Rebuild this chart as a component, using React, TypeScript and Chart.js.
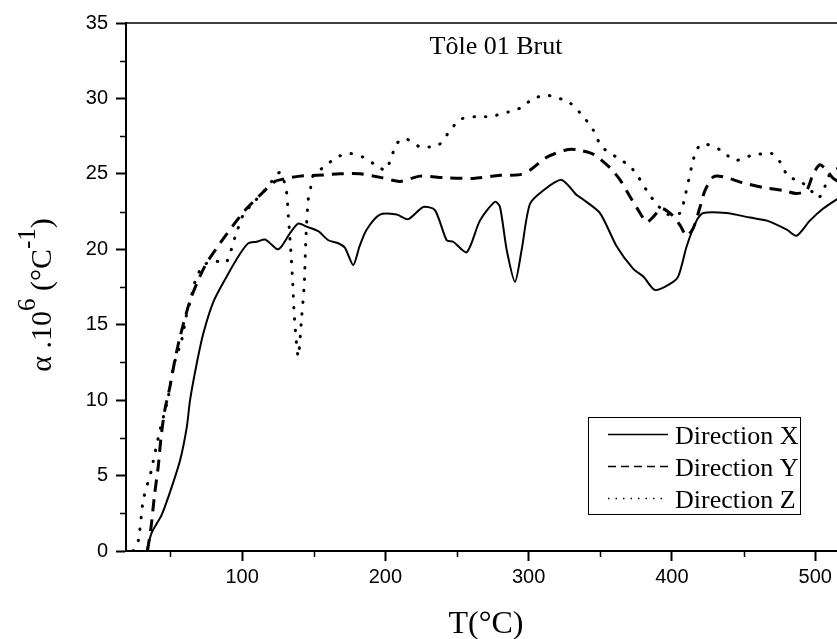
import React, { useEffect, useRef } from "react";
import { Chart, registerables } from "chart.js";

Chart.register(...registerables);

// ---- Data (temperature °C, alpha x 10^6 /°C) ----
const dirXTemp = [33.4, 36.9, 43.9, 49.7, 56.7, 61.4, 63.7, 68.3, 72.9, 79.9, 89.3, 98.6, 104.4, 110.2, 116.0, 120.7, 124.6, 127.6, 133.4, 139.2, 145.1, 153.2, 160.2, 167.2, 171.8, 177.6, 182, 186.9, 196.2, 207.9, 216.0, 226.5, 234.6, 242.8, 247.4, 256.8, 266.0, 276.5, 280, 284.7, 290.5, 295.1, 300.9, 310.2, 323.0, 333.5, 338.1, 349.8, 361.4, 373.0, 380, 388.2, 398.6, 404.4, 410.3, 417.2, 421.9, 438, 454.6, 466.3, 480.2, 487.0, 496.3, 505.6, 514.9, 520];
const dirXAlpha = [0, 1.2, 2.4, 3.9, 6.0, 8.2, 10.0, 12.4, 14.4, 16.5, 18.2, 19.7, 20.4, 20.5, 20.65, 20.3, 20.0, 20.2, 21.05, 21.7, 21.5, 21.2, 20.6, 20.4, 20.1, 18.95, 20.2, 21.3, 22.3, 22.3, 22.0, 22.8, 22.6, 20.6, 20.5, 19.8, 21.9, 23.15, 22.8, 19.95, 17.85, 19.95, 23.0, 23.9, 24.6, 23.6, 23.3, 22.4, 20.2, 18.7, 18.2, 17.3, 17.7, 18.2, 20.2, 21.9, 22.4, 22.4, 22.1, 21.9, 21.3, 20.9, 21.9, 22.7, 23.3, 23.6];

const dirYTemp = [34, 36.5, 39, 41.5, 43.5, 46.2, 49.7, 53.2, 56.7, 63.7, 70.6, 75.3, 84.6, 93.9, 103.2, 114.8, 123.0, 131.1, 140.4, 152.1, 168.3, 182.3, 197.4, 210.2, 224.2, 240.4, 261.3, 280, 294, 301, 312.6, 326.6, 333.5, 345.1, 356.8, 363.8, 370.7, 376.5, 382.4, 387.0, 392.8, 399.8, 405.6, 410.3, 414.9, 419.6, 423.1, 428.9, 435.9, 449.7, 463.7, 477.7, 486.9, 493.9, 498.6, 503.3, 507.9, 512.6, 518];
const dirYAlpha = [0, 1.6, 3.8, 5.6, 7.6, 9.4, 10.9, 12.7, 14.2, 16.6, 18.2, 19.1, 20.4, 21.6, 22.7, 23.8, 24.5, 24.7, 24.85, 24.9, 25.0, 25.0, 24.75, 24.5, 24.85, 24.75, 24.7, 24.9, 24.95, 25.25, 26.1, 26.6, 26.6, 26.3, 25.4, 24.6, 23.5, 22.6, 21.8, 22.15, 22.7, 22.3, 21.6, 20.9, 21.4, 22.8, 23.9, 24.8, 24.8, 24.4, 24.1, 23.9, 23.7, 23.9, 25.0, 25.6, 25.25, 24.7, 24.4];

const dirZTemp = [24, 27.6, 31.1, 36.9, 38.1, 42.7, 48.5, 52.0, 57.9, 61.4, 63.7, 67, 72.9, 82.2, 88.8, 95.1, 100.9, 108, 114.8, 120.7, 126.5, 130.7, 132.3, 134, 135.4, 136.5, 139.2, 141.6, 143.4, 144.6, 146.2, 147.9, 149.7, 157.9, 166.0, 175.3, 184.6, 193.0, 200, 203.5, 207.9, 213.7, 224.2, 236.9, 243.9, 252.1, 263.7, 273.0, 285.8, 295.1, 303.2, 312.6, 318.4, 328.8, 338.1, 345.1, 351.0, 361.4, 370.7, 376.5, 382.4, 389.3, 397.4, 405.6, 409.1, 413.8, 417.2, 421.9, 433.5, 444.0, 455, 469.6, 475.4, 481.3, 489, 497, 502, 505.6, 509.1, 513.5, 518];
const dirZAlpha = [0, 0.7, 3.4, 5.4, 6.0, 8.0, 10.2, 12.2, 14.0, 15.75, 16.5, 17.8, 18.95, 19.2, 19.1, 20.8, 22.3, 23.1, 23.8, 24.5, 25.1, 24.0, 22.2, 19.9, 17.7, 15.5, 12.9, 15.5, 17.7, 20.8, 23.3, 24.1, 24.9, 25.5, 26.1, 26.35, 26.1, 25.6, 25.25, 25.9, 27.0, 27.35, 26.8, 26.9, 27.7, 28.6, 28.8, 28.8, 29.1, 29.4, 30.0, 30.2, 30.1, 29.7, 28.8, 27.9, 26.8, 26.1, 25.5, 24.8, 23.9, 23.0, 22.3, 22.4, 23.5, 25.5, 26.6, 27.0, 26.6, 25.9, 26.2, 26.35, 25.8, 24.8, 24.55, 23.9, 23.4, 23.85, 24.8, 25.3, 25.4];

const seriesLabels = ["Direction X", "Direction Y", "Direction Z"];
const chartTitle = "Tôle 01 Brut";
const xTitle = "T(°C)";
const xMajorTicks = [100, 200, 300, 400, 500];
const xMinorTicks = [50, 150, 250, 350, 450];
const yMinorTicks = [2.5, 7.5, 12.5, 17.5, 22.5, 27.5, 32.5];

const zip = (xs: number[], ys: number[]) => xs.map((x, i) => ({ x, y: ys[i] }));

const SERIF = "'Liberation Serif', 'Times New Roman', serif";
const SANS = "'Liberation Sans', Arial, sans-serif";

const decor = {
  id: "decor",
  afterDraw(chart: any) {
    const { ctx, chartArea, scales } = chart;
    const xs = scales.x;
    const ys = scales.y;
    ctx.save();
    ctx.strokeStyle = "#000";
    ctx.fillStyle = "#000";
    // top frame line
    ctx.lineWidth = 1.5;
    ctx.beginPath();
    ctx.moveTo(chartArea.left, chartArea.top);
    ctx.lineTo(chartArea.right, chartArea.top);
    ctx.stroke();
    // minor ticks
    ctx.lineWidth = 1.5;
    ctx.beginPath();
    xMinorTicks.forEach((v) => {
      const px = Math.round(xs.getPixelForValue(v)) + 0.5;
      ctx.moveTo(px, chartArea.bottom);
      ctx.lineTo(px, chartArea.bottom + 6);
    });
    yMinorTicks.forEach((v) => {
      const py = Math.round(ys.getPixelForValue(v)) + 0.5;
      ctx.moveTo(chartArea.left, py);
      ctx.lineTo(chartArea.left - 6, py);
    });
    ctx.stroke();

    // chart title inside plot
    ctx.font = `26px ${SERIF}`;
    ctx.textAlign = "center";
    ctx.textBaseline = "alphabetic";
    ctx.fillText(chartTitle, 496, 54);

    // x title
    ctx.font = `32px ${SERIF}`;
    ctx.fillText(xTitle, 486, 633);

    // y title with superscripts
    const base = `30px ${SERIF}`;
    const sup = `25px ${SERIF}`;
    const parts: [string, boolean][] = [
      ["α .10", false],
      ["6", true],
      [" (°C", false],
      ["-1", true],
      [")", false],
    ];
    let total = 0;
    parts.forEach(([t, s]) => {
      ctx.font = s ? sup : base;
      total += ctx.measureText(t).width;
    });
    ctx.translate(51, 295);
    ctx.rotate(-Math.PI / 2);
    ctx.textAlign = "left";
    let cx = -total / 2;
    parts.forEach(([t, s]) => {
      ctx.font = s ? sup : base;
      ctx.fillText(t, cx, s ? -16 : 0);
      cx += ctx.measureText(t).width;
    });
    ctx.setTransform(1, 0, 0, 1, 0, 0);

    // legend
    ctx.lineWidth = 1;
    ctx.strokeRect(588.5, 417.5, 212, 97);
    const rows = [434.5, 466.5, 498.5];
    const baselines = [444, 476, 508];
    const dashes = [[], [8, 5], [1.5, 6]];
    ctx.lineWidth = 1.5;
    rows.forEach((ry, i) => {
      ctx.setLineDash(dashes[i]);
      ctx.beginPath();
      ctx.moveTo(608, ry);
      ctx.lineTo(668, ry);
      ctx.stroke();
    });
    ctx.setLineDash([]);
    ctx.font = `26px ${SERIF}`;
    ctx.textAlign = "left";
    seriesLabels.forEach((l, i) => ctx.fillText(l, 675, baselines[i]));
    ctx.restore();
  },
};

export default function App() {
  const ref = useRef<HTMLCanvasElement | null>(null);
  useEffect(() => {
    if (!ref.current) return;
    const common = { borderColor: "#000", pointRadius: 0, fill: false, tension: 0.25 };
    const chart = new Chart(ref.current, {
      type: "line",
      data: {
        datasets: [
          { ...common, label: seriesLabels[0], data: zip(dirXTemp, dirXAlpha), borderWidth: 2 },
          { ...common, label: seriesLabels[1], data: zip(dirYTemp, dirYAlpha), borderWidth: 3, borderDash: [12, 8] },
          { ...common, label: seriesLabels[2], data: zip(dirZTemp, dirZAlpha), borderWidth: 3, borderDash: [0.5, 11], borderCapStyle: "round" },
        ],
      },
      options: {
        responsive: false,
        animation: false,
        layout: { padding: { top: 23, right: 0, left: 0, bottom: 0 } },
        plugins: { legend: { display: false }, tooltip: { enabled: false }, title: { display: false } },
        scales: {
          x: {
            type: "linear",
            min: 19,
            max: 515.2,
            afterBuildTicks: (s: any) => { s.ticks = xMajorTicks.map((v) => ({ value: v })); },
            afterFit: (s: any) => { s.height = 88; },
            border: { display: true, color: "#000", width: 2 },
            grid: { drawOnChartArea: false, drawTicks: true, tickLength: 10, tickColor: "#000", tickWidth: 2 },
            ticks: { color: "#000", font: { family: SANS, size: 20 }, padding: 4, maxRotation: 0, callback: (v: any) => String(v) },
          },
          y: {
            min: 0,
            max: 35,
            afterFit: (s: any) => { s.width = 126; },
            border: { display: true, color: "#000", width: 2 },
            grid: { drawOnChartArea: false, drawTicks: true, tickLength: 10, tickColor: "#000", tickWidth: 2 },
            ticks: { stepSize: 5, color: "#000", font: { family: SANS, size: 20 }, padding: 8 },
          },
        },
      },
      plugins: [decor],
    });
    return () => chart.destroy();
  }, []);
  return (
    <div style={{ position: "fixed", left: 0, top: 0, width: 837, height: 639, background: "#fff" }}>
      <canvas ref={ref} width={837} height={639} style={{ display: "block" }} />
    </div>
  );
}
